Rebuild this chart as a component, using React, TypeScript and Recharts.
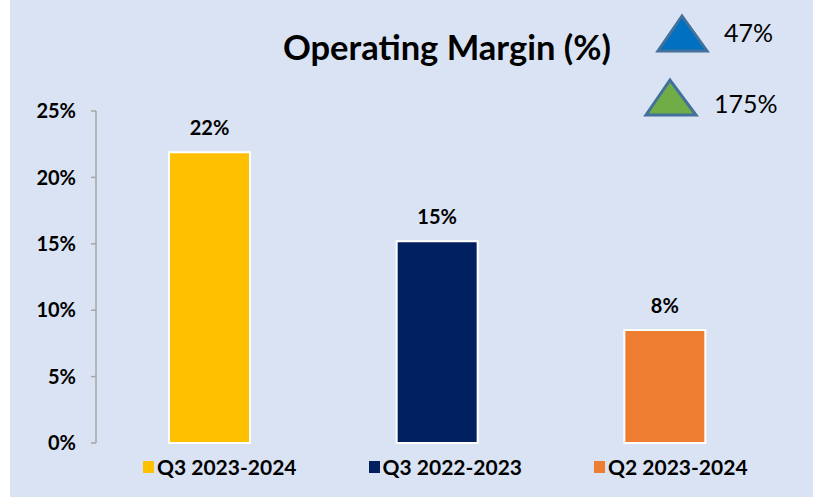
import { BarChart, Bar, XAxis, YAxis, Cell, LabelList, Legend } from "recharts";

const categories = ["Q3 2023-2024", "Q3 2022-2023", "Q2 2023-2024"];
const margins = [21.9, 15.2, 8.5];
const marginLabels = ["22%", "15%", "8%"];
const colors = ["#ffc000", "#002060", "#ed7d31"];
const yTicks = [0, 5, 10, 15, 20, 25];

const growthBadges = [
	{ text: "47%", fill: "#0070c0" },
	{ text: "175%", fill: "#70ad47" },
];

const data = categories.map((name, i) => ({
	name,
	value: margins[i],
	label: marginLabels[i],
}));

const FONT = "Lato, 'Open Sans', sans-serif";

function LegendContent() {
	return (
		<div
			style={{
				display: "flex",
				justifyContent: "flex-start",
				gap: 72,
				fontFamily: FONT,
				fontWeight: 700,
				fontSize: 21,
				color: "#000",
				paddingLeft: 143,
			}}>
			{categories.map((c, i) => (
				<div key={c} style={{ display: "flex", alignItems: "center" }}>
					<span
						style={{
							width: 11,
							height: 12,
							background: colors[i],
							marginRight: 3,
							display: "inline-block",
						}}
					/>
					<span>{c}</span>
				</div>
			))}
		</div>
	);
}

export default function App() {
	return (
		<div
			style={{
				position: "absolute",
				left: 0,
				top: 0,
				width: 813,
				height: 498,
				background: "#ffffff",
			}}>
			<div
				style={{
					position: "absolute",
					left: 10,
					top: 0,
					width: 803,
					height: 497,
					background: "#dae3f3",
				}}
			/>
			<div style={{ position: "absolute", left: 0, top: 0 }}>
				<BarChart
					width={813}
					height={498}
					data={data}
					margin={{ top: 111, right: 34, bottom: 55, left: 0 }}>
					<XAxis
						dataKey="name"
						height={0}
						tick={false}
						tickLine={false}
						axisLine={{ stroke: "#a6a6a6", strokeWidth: 2 }}
					/>
					<YAxis
						width={96}
						domain={[0, 25]}
						ticks={yTicks}
						interval={0}
						tickFormatter={(v) => `${v}%`}
						tickSize={5}
						tickMargin={15}
						axisLine={{ stroke: "#a6a6a6", strokeWidth: 1.5 }}
						tickLine={{ stroke: "#a6a6a6", strokeWidth: 1.5 }}
						tick={{
							fill: "#000",
							fontFamily: FONT,
							fontWeight: 700,
							fontSize: 20,
						}}
					/>
					<Bar
						dataKey="value"
						barSize={81}
						stroke="#ffffff"
						strokeWidth={2}
						isAnimationActive={false}>
						{data.map((_, i) => (
							<Cell key={i} fill={colors[i]} />
						))}
						<LabelList
							dataKey="label"
							position="top"
							offset={17}
							fill="#000"
							fontFamily={FONT}
							fontWeight={700}
							fontSize={20}
						/>
					</Bar>
					<Legend
						verticalAlign="middle"
						align="center"
						layout="horizontal"
						wrapperStyle={{ top: 454, left: 0, width: 813 }}
						content={<LegendContent />}
					/>
				</BarChart>
			</div>
			<svg
				width={813}
				height={498}
				style={{ position: "absolute", left: 0, top: 0, pointerEvents: "none" }}>
				<text
					x={447}
					y={60}
					textAnchor="middle"
					fontFamily={FONT}
					fontWeight={700}
					fontSize={34.5}
					fill="#000">
					Operating Margin (%)
				</text>
				<polygon
					points="682,16 658,51 707,51"
					fill={growthBadges[0].fill}
					stroke="#41719c"
					strokeWidth={3}
				/>
				<text x={724} y={42} fontFamily={FONT} fontSize={25} fill="#000">
					{growthBadges[0].text}
				</text>
				<polygon
					points="670,80 646,115 696,115"
					fill={growthBadges[1].fill}
					stroke="#41719c"
					strokeWidth={3}
				/>
				<text x={714} y={113} fontFamily={FONT} fontSize={25} fill="#000">
					{growthBadges[1].text}
				</text>
			</svg>
		</div>
	);
}
